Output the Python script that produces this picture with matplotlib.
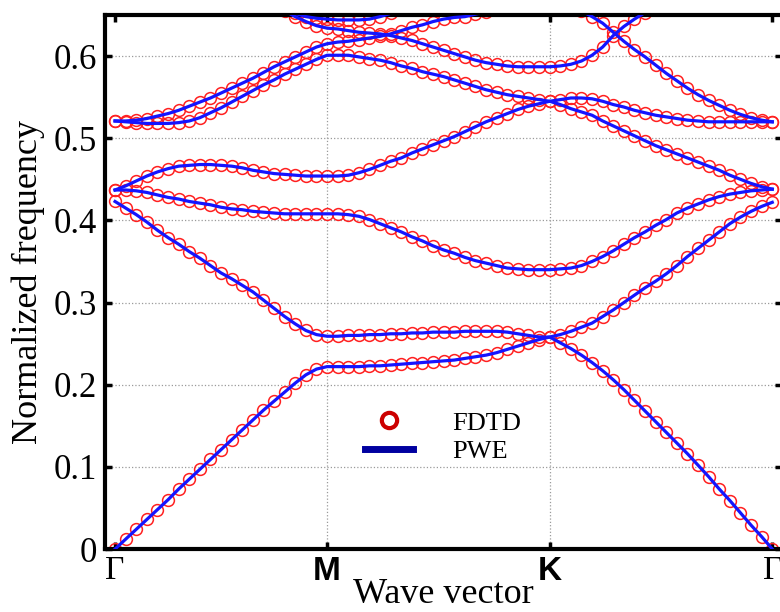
import numpy as np
import matplotlib
matplotlib.use("Agg")
import matplotlib.pyplot as plt
from matplotlib.lines import Line2D

nan = np.nan

# k-path sample index: Gamma -> M (0..20), M -> K (20..41), K -> Gamma (41..62)
k_index = np.arange(63)
tick_pos = [0, 20, 41, 62]
tick_labels = ["\u0393", "M", "K", "\u0393"]

band1 = [0.000, 0.012, 0.024, 0.036, 0.048, 0.060, 0.073, 0.085, 0.097, 0.109, 0.121,
         0.133, 0.145, 0.157, 0.169, 0.180, 0.191, 0.202, 0.212, 0.219, 0.222,
         0.222, 0.222, 0.222, 0.223, 0.223, 0.224, 0.225, 0.226, 0.227, 0.228,
         0.229, 0.230, 0.232, 0.234, 0.236, 0.239, 0.243, 0.247, 0.251, 0.255, 0.258,
         0.251, 0.244, 0.236, 0.227, 0.217, 0.206, 0.194, 0.181, 0.168, 0.155,
         0.142, 0.129, 0.116, 0.102, 0.088, 0.073, 0.059, 0.044, 0.029, 0.015, 0.000]
band2 = [0.423, 0.415, 0.407, 0.398, 0.388, 0.379, 0.371, 0.362, 0.354, 0.345, 0.336,
         0.329, 0.321, 0.313, 0.303, 0.293, 0.283, 0.274, 0.266, 0.261, 0.259,
         0.259, 0.260, 0.260, 0.261, 0.261, 0.262, 0.262, 0.263, 0.263, 0.264,
         0.264, 0.264, 0.265, 0.265, 0.265, 0.265, 0.264, 0.262, 0.260, 0.258, 0.258,
         0.261, 0.265, 0.270, 0.275, 0.283, 0.291, 0.300, 0.309, 0.318, 0.326,
         0.335, 0.345, 0.356, 0.366, 0.376, 0.386, 0.396, 0.404, 0.411, 0.417, 0.422]
band3 = [0.437, 0.437, 0.436, 0.434, 0.431, 0.428, 0.426, 0.423, 0.421, 0.419, 0.416,
         0.414, 0.413, 0.411, 0.410, 0.409, 0.408, 0.408, 0.408, 0.408, 0.408,
         0.408, 0.407, 0.405, 0.401, 0.396, 0.391, 0.386, 0.380, 0.375, 0.369,
         0.364, 0.360, 0.355, 0.351, 0.348, 0.345, 0.342, 0.341, 0.340, 0.340, 0.340,
         0.341, 0.342, 0.345, 0.350, 0.356, 0.363, 0.371, 0.379, 0.386, 0.394,
         0.401, 0.409, 0.415, 0.420, 0.425, 0.429, 0.432, 0.434, 0.436, 0.437, 0.438]
band4 = [0.437, 0.442, 0.448, 0.454, 0.459, 0.463, 0.466, 0.467, 0.468, 0.468, 0.467,
         0.466, 0.464, 0.461, 0.459, 0.457, 0.456, 0.455, 0.454, 0.454, 0.454,
         0.454, 0.455, 0.458, 0.462, 0.467, 0.472, 0.476, 0.482, 0.487, 0.492,
         0.497, 0.502, 0.508, 0.514, 0.520, 0.525, 0.530, 0.535, 0.539, 0.542, 0.545,
         0.547, 0.549, 0.549, 0.548, 0.545, 0.541, 0.538, 0.534, 0.531, 0.528,
         0.526, 0.524, 0.522, 0.521, 0.520, 0.520, 0.520, 0.520, 0.520, 0.520, 0.520]
band5 = [0.521, 0.520, 0.519, 0.518, 0.518, 0.518, 0.519, 0.521, 0.525, 0.531, 0.537,
         0.544, 0.551, 0.558, 0.565, 0.571, 0.578, 0.584, 0.590, 0.596, 0.601,
         0.601, 0.601, 0.599, 0.597, 0.595, 0.592, 0.588, 0.585, 0.581, 0.578,
         0.575, 0.571, 0.567, 0.563, 0.559, 0.556, 0.553, 0.551, 0.549, 0.547, 0.545,
         0.541, 0.536, 0.532, 0.528, 0.521, 0.515, 0.509, 0.503, 0.497, 0.491,
         0.486, 0.481, 0.476, 0.471, 0.466, 0.461, 0.455, 0.450, 0.445, 0.441, 0.438]
band6 = [0.521, 0.521, 0.522, 0.524, 0.527, 0.530, 0.534, 0.539, 0.544, 0.549, 0.555,
         0.561, 0.567, 0.573, 0.580, 0.587, 0.593, 0.599, 0.605, 0.611, 0.615,
         0.617, 0.618, 0.620, 0.622, 0.624, 0.627, 0.631, 0.635, 0.638, 0.642,
         0.645, 0.647, 0.648, 0.651, 0.654, nan, nan, nan, nan, nan, nan,
         nan, nan, nan, nan, nan, nan, nan, nan, nan, nan,
         nan, nan, nan, nan, nan, nan, nan, nan, nan, nan, nan]
band7 = [nan, nan, nan, nan, nan, nan, nan, nan, nan, nan, nan,
         nan, nan, nan, nan, nan, 0.655, 0.648, 0.642, 0.637, 0.634,
         0.633, 0.631, 0.629, 0.628, 0.627, 0.625, 0.622, 0.619, 0.615, 0.611,
         0.607, 0.603, 0.599, 0.595, 0.592, 0.590, 0.588, 0.587, 0.587, 0.587, 0.587,
         0.588, 0.590, 0.594, 0.601, 0.611, 0.625, 0.636, 0.645, 0.653, nan,
         nan, nan, nan, nan, nan, nan, nan, nan, nan, nan, nan]
band8 = [nan, nan, nan, nan, nan, nan, nan, nan, nan, nan, nan,
         nan, nan, nan, nan, nan, nan, 0.652, 0.648, 0.646, 0.645,
         0.644, 0.644, 0.644, 0.645, 0.648, 0.652, nan, nan, nan, nan,
         nan, nan, nan, nan, nan, nan, nan, nan, nan, nan, nan,
         nan, nan, nan, nan, nan, nan, nan, nan, nan, nan,
         nan, nan, nan, nan, nan, nan, nan, nan, nan, nan, nan]
band9 = [nan, nan, nan, nan, nan, nan, nan, nan, nan, nan, nan,
         nan, nan, nan, nan, nan, nan, nan, nan, nan, nan,
         nan, nan, nan, nan, nan, nan, nan, nan, nan, nan,
         nan, nan, nan, nan, nan, nan, nan, nan, nan, nan, nan,
         nan, nan, 0.655, 0.648, 0.640, 0.629, 0.618, 0.608, 0.599, 0.589,
         0.579, 0.570, 0.561, 0.553, 0.546, 0.540, 0.534, 0.529, 0.525, 0.522, 0.520]

bands = [band1, band2, band3, band4, band5, band6, band7, band8, band9]

serif = "Liberation Serif"

fig = plt.figure(figsize=(7.8, 6.12), dpi=100)
ax = fig.add_axes([0.1346, 0.1029, 0.8684, 0.8726])

# FDTD points first, PWE lines over them
for b in bands:
    ax.plot(k_index, b, ls="none", marker="o", ms=8.5, mfc="none",
            mec="#ff2020", mew=1.1, zorder=2)
for b in bands:
    ax.plot(k_index, b, color="#1414ff", lw=2.3, zorder=3)

ax.set_xlim(-0.95, 62.95)
ax.set_ylim(0, 0.65)

ax.set_yticks([0, 0.1, 0.2, 0.3, 0.4, 0.5, 0.6])
ax.set_yticklabels(["0", "0.1", "0.2", "0.3", "0.4", "0.5", "0.6"],
                   fontfamily=serif, fontsize=25)
ax.set_xticks(tick_pos)
ax.set_xticklabels(tick_labels)
for i, lbl in enumerate(ax.get_xticklabels()):
    if tick_labels[i] in ("M", "K"):
        lbl.set_fontfamily("Liberation Sans")
        lbl.set_fontweight("bold")
        lbl.set_fontsize(24)
    else:
        lbl.set_fontfamily(serif)
        lbl.set_fontsize(24)

ax.yaxis.grid(True, ls=":", color="#9a9a9a", lw=0.9)
for p in tick_pos[1:3]:
    ax.axvline(p, ls=":", color="#9a9a9a", lw=0.9, zorder=0)

for s in ax.spines.values():
    s.set_linewidth(3)
ax.tick_params(direction="in", length=5, width=2.5, top=True, right=True)
ax.tick_params(axis="y", pad=6)
ax.tick_params(axis="x", pad=5)

ax.set_ylabel("Normalized frequency", fontfamily=serif, fontsize=26)
ax.yaxis.set_label_coords(-0.088, 0.5)
ax.set_xlabel("Wave vector", fontfamily=serif, fontsize=26)
ax.xaxis.set_label_coords(0.5, -0.055)

h_fdtd = Line2D([], [], ls="none", marker="o", ms=11, mfc="none", mec="#cc0000", mew=3)
h_pwe = Line2D([], [], color="#0000a0", lw=5)
ax.legend([h_fdtd, h_pwe], ["FDTD", "PWE"], loc="upper left",
          bbox_to_anchor=(0.384, 0.258), frameon=False,
          prop={"family": serif, "size": 19}, handlelength=1.82,
          handletextpad=1.48, labelspacing=0.2, borderaxespad=0, borderpad=0)

fig.savefig("out.png", dpi=100)
